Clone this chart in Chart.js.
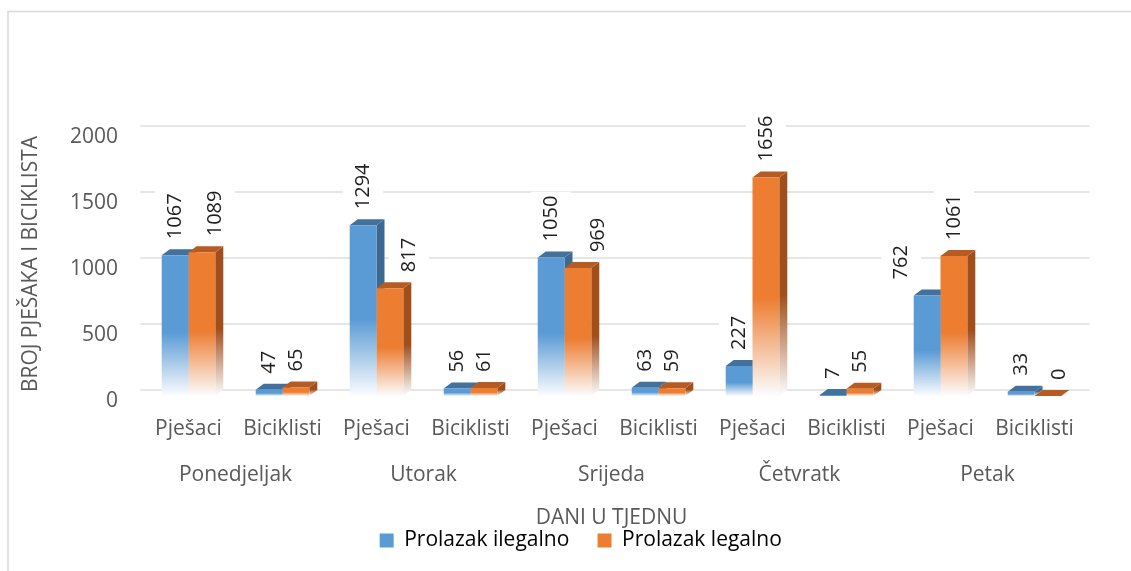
<!DOCTYPE html>
<html>
<head>
<meta charset="utf-8">
<script src="https://cdn.jsdelivr.net/npm/chart.js@4.4.1/dist/chart.umd.min.js"></script>
<style>
  html, body { margin: 0; padding: 0; background: #fff; }
  #wrap { width: 1131px; height: 571px; position: relative; }
</style>
</head>
<body>
<div id="wrap"><canvas id="myChart"></canvas></div>
<script>
const categories = ['Pješaci', 'Biciklisti', 'Pješaci', 'Biciklisti', 'Pješaci', 'Biciklisti', 'Pješaci', 'Biciklisti', 'Pješaci', 'Biciklisti'];
const days = ['Ponedjeljak', 'Utorak', 'Srijeda', 'Četvratk', 'Petak'];
const ilegalno = [1067, 47, 1294, 56, 1050, 63, 227, 7, 762, 33];
const legalno = [1089, 65, 817, 61, 969, 59, 1656, 55, 1061, 0];
const yTicks = [0, 500, 1000, 1500, 2000];

const FONT = "'Open Sans', sans-serif";
const GREY = '#595959';
const DX = 8, DY = 6;   // 3d depth

// colours: front, top, side
const blue = ['#5b9bd5', '#41719c', '#3d6990'];
const orange = ['#ed7d31', '#b65c22', '#a04f1b'];

// hand moved labels in the original (dataset:index -> px)
const labelNudge = { '1:0': 13, '1:2': 19, '1:4': 20, '0:8': -26, '1:9': 11 };

function fade(ctx, top, base, color) {
  const g = ctx.createLinearGradient(0, top, 0, base);
  g.addColorStop(0, color);
  g.addColorStop(0.55, color);
  g.addColorStop(1, '#fcfdff');
  return g;
}

function frontColor(c) {
  return (context) => {
    const chart = context.chart;
    if (!chart.chartArea || context.dataIndex === undefined) return c;
    const y = chart.scales.y;
    const top = y.getPixelForValue(context.raw);
    const base = y.getPixelForValue(0);
    if (base - top < 1) return c;
    return fade(chart.ctx, top, base, c);
  };
}

const bars3d = {
  id: 'bars3d',
  beforeDraw(chart) {
    const c = chart.ctx;
    c.save();
    c.strokeStyle = '#d9d9d9';
    c.lineWidth = 1.5;
    c.beginPath();
    c.moveTo(8, chart.height);
    c.lineTo(8, 11.5);
    c.lineTo(chart.width, 11.5);
    c.stroke();
    c.restore();
  },
  afterLayout(chart) {
    // excel legend sits a bit right of centre
    chart.legend.left += 40;
    chart.legend.right += 40;
  },
  beforeDatasetsDraw(chart) {
    const c = chart.ctx;
    const y = chart.scales.y;
    const area = chart.chartArea;
    c.save();
    // back wall gridlines
    c.strokeStyle = '#e6e6e6';
    c.lineWidth = 2;
    y.ticks.forEach(t => {
      const py = y.getPixelForValue(t.value) - DY;
      c.beginPath();
      c.moveTo(area.left - 1, py);
      c.lineTo(area.right + DX, py);
      c.stroke();
    });
    // white boxes behind labels
    c.font = '20px ' + FONT;
    c.fillStyle = '#ffffff';
    chart.data.datasets.forEach((ds, di) => {
      chart.getDatasetMeta(di).data.forEach((bar, i) => {
        const w = c.measureText(String(ds.data[i])).width;
        const x = bar.x + (labelNudge[di + ':' + i] || 0);
        c.fillRect(x - 20, bar.y - 16 - w - 4, 40, w + 8);
      });
    });
    // side faces, then top faces
    const metas = [0, 1].map(i => chart.getDatasetMeta(i));
    metas.forEach((meta, di) => {
      const col = di === 0 ? blue : orange;
      meta.data.forEach(bar => {
        const r = bar.x + bar.width / 2;
        c.fillStyle = bar.base - bar.y > 1 ? fade(c, bar.y - DY, bar.base, col[2]) : col[2];
        c.beginPath();
        c.moveTo(r, bar.y);
        c.lineTo(r + DX, bar.y - DY);
        c.lineTo(r + DX, bar.base - DY);
        c.lineTo(r, bar.base);
        c.closePath();
        c.fill();
      });
    });
    metas.forEach((meta, di) => {
      const col = di === 0 ? blue : orange;
      meta.data.forEach(bar => {
        const l = bar.x - bar.width / 2;
        const r = bar.x + bar.width / 2;
        c.fillStyle = col[1];
        c.beginPath();
        c.moveTo(l, bar.y);
        c.lineTo(l + DX, bar.y - DY);
        c.lineTo(r + DX, bar.y - DY);
        c.lineTo(r, bar.y);
        c.closePath();
        c.fill();
      });
    });
    c.restore();
  },
  afterDatasetsDraw(chart) {
    const c = chart.ctx;
    c.save();
    c.font = '20px ' + FONT;
    c.fillStyle = '#1f1f1f';
    c.textAlign = 'left';
    c.textBaseline = 'middle';
    chart.data.datasets.forEach((ds, di) => {
      chart.getDatasetMeta(di).data.forEach((bar, i) => {
        const x = bar.x + (labelNudge[di + ':' + i] || 0);
        c.save();
        c.translate(x, bar.y - 16);
        c.rotate(-Math.PI / 2);
        c.fillText(String(ds.data[i]), 0, 0);
        c.restore();
      });
    });
    c.restore();
  }
};

const ctx = document.getElementById('myChart');

new Chart(ctx, {
  type: 'bar',
  data: {
    labels: categories,
    datasets: [{
      label: 'Prolazak ilegalno',
      data: ilegalno,
      backgroundColor: frontColor(blue[0])
    }, {
      label: 'Prolazak legalno',
      data: legalno,
      backgroundColor: frontColor(orange[0])
    }]
  },
  options: {
    responsive: true,
    maintainAspectRatio: false,
    animation: false,
    categoryPercentage: 0.57,
    barPercentage: 1,
    layout: { padding: { top: 132, right: 49.5, bottom: 10, left: 0 } },
    plugins: {
      tooltip: { enabled: false },
      legend: {
        position: 'bottom',
        labels: {
          color: GREY,
          font: { family: FONT, size: 21, lineHeight: 1 },
          boxWidth: 14,
          boxHeight: 14,
          padding: 1,
          generateLabels(chart) {
            return chart.data.datasets.map((ds, i) => ({
              text: i === 0 ? ds.label + '     ' : ds.label,
              fillStyle: i === 0 ? blue[0] : orange[0],
              strokeStyle: 'rgba(0,0,0,0)',
              lineWidth: 0,
              datasetIndex: i
            }));
          }
        }
      }
    },
    scales: {
      x: {
        grid: { display: false, drawTicks: false },
        border: { display: false },
        afterFit(scale) { scale.height = 45.2; },
        ticks: { color: GREY, font: { family: FONT, size: 21 }, padding: 20, maxRotation: 0, autoSkip: false }
      },
      x2: {
        type: 'category',
        position: 'bottom',
        labels: days,
        grid: { display: false, drawTicks: false },
        border: { display: false },
        afterFit(scale) { scale.height = 87.8; },
        ticks: { color: GREY, font: { family: FONT, size: 21 }, padding: 21, maxRotation: 0, autoSkip: false },
        title: {
          display: true,
          text: 'DANI U TJEDNU',
          color: GREY,
          font: { family: FONT, size: 21, lineHeight: 1 },
          padding: { top: 20, bottom: 0 }
        }
      },
      y: {
        min: 0,
        max: 2000,
        afterBuildTicks(scale) { scale.ticks = yTicks.map(v => ({ value: v })); },
        afterFit(scale) { scale.width = 141.5; },
        grid: { display: false, drawTicks: false },
        border: { display: false },
        ticks: { color: GREY, font: { family: FONT, size: 21 }, padding: 23.5, labelOffset: 5, callback: v => String(v) },
        title: {
          display: true,
          text: 'BROJ PJEŠAKA I BICIKLISTA',
          color: GREY,
          font: { family: FONT, size: 21 },
          padding: { top: 18, bottom: 0 }
        }
      }
    }
  },
  plugins: [bars3d]
});
</script>
</body>
</html>
